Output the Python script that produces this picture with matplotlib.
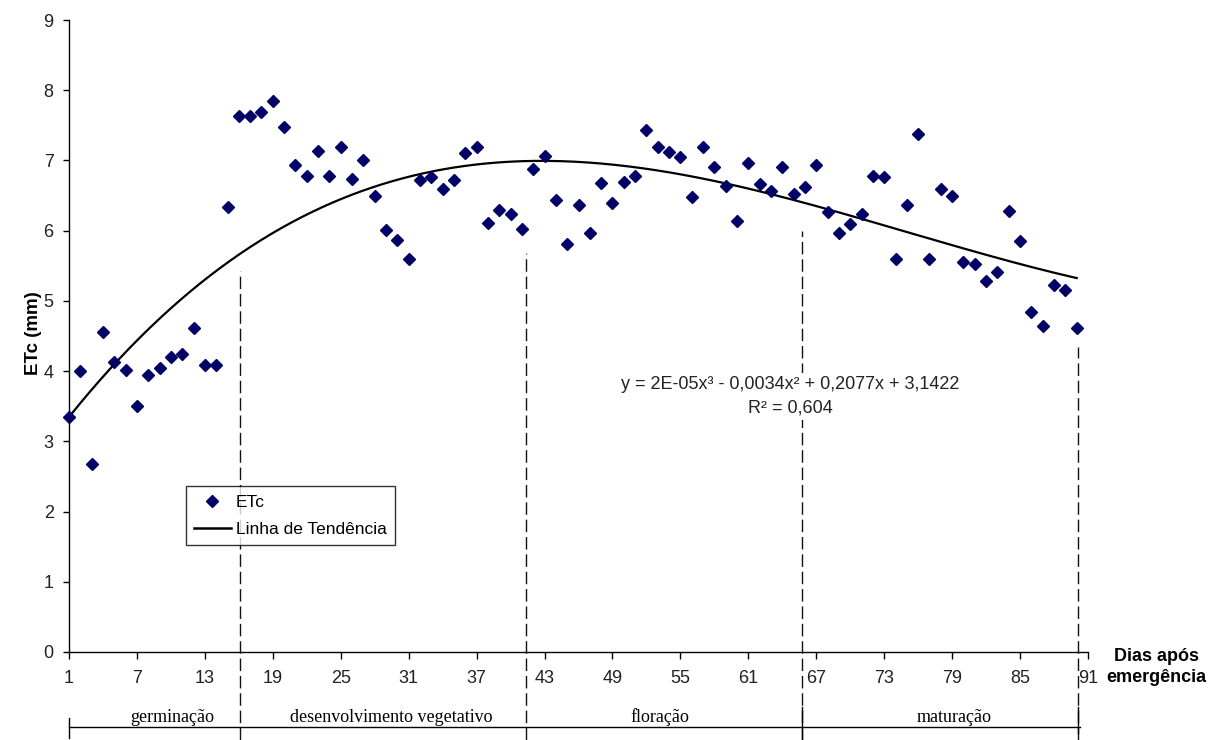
import numpy as np
import matplotlib
matplotlib.use("Agg")
import matplotlib.pyplot as plt
from matplotlib.lines import Line2D

# ---------------- data ----------------
days = list(range(1, 91))
etc = [3.35, 4.00, 2.68, 4.56, 4.13, 4.01, 3.51, 3.95, 4.05, 4.20,
       4.24, 4.62, 4.08, 4.08, 6.34, 7.63, 7.63, 7.69, 7.85, 7.47,
       6.94, 6.78, 7.14, 6.78, 7.19, 6.74, 7.00, 6.50, 6.01, 5.86,
       5.59, 6.72, 6.76, 6.60, 6.72, 7.10, 7.19, 6.11, 6.29, 6.24,
       6.03, 6.88, 7.06, 6.44, 5.81, 6.36, 5.97, 6.68, 6.40, 6.70,
       6.78, 7.43, 7.19, 7.12, 7.05, 6.48, 7.19, 6.90, 6.63, 6.14,
       6.97, 6.66, 6.57, 6.90, 6.52, 6.62, 6.94, 6.26, 5.97, 6.10,
       6.24, 6.78, 6.76, 5.59, 6.37, 7.37, 5.59, 6.60, 6.50, 5.55,
       5.53, 5.29, 5.41, 6.28, 5.85, 4.84, 4.64, 5.23, 5.16, 4.62]

xtick_labels = list(range(1, 92, 6))
yticks = list(range(0, 10))

stage_names = ["germinação", "desenvolvimento vegetativo", "floração", "maturação"]
stage_label_x = [10.1, 29.5, 53.2, 79.2]
stage_bounds = [16.1, 41.4, 65.7, 90.1]
stage_bound_tops = [5.42, 5.68, 6.00, 4.34]

equation = "y = 2E-05x³ - 0,0034x² + 0,2077x + 3,1422\nR² = 0,604"

# ---------------- figure ----------------
plt.rcParams['font.family'] = ['Liberation Sans', 'DejaVu Sans']

fig = plt.figure(figsize=(12.12, 7.40), dpi=100)
ax = fig.add_axes([69/1212, (740-652)/740, 1019/1212, 632/740])

x = np.array(days, dtype=float)
y = np.array(etc, dtype=float)

# trend line (cubic fit of the data)
coef = np.polyfit(x, y, 3)
xf = np.linspace(1, 90, 300)
ax.plot(xf, np.polyval(coef, xf), color='black', lw=1.6, zorder=3,
        label='Linha de Tendência', clip_on=False)

ax.plot(x, y, linestyle='none', marker='D', markersize=5.8,
        color='#000066', zorder=4, label='ETc', clip_on=False)

ax.set_xlim(1, 91)
ax.set_ylim(0, 9)
ax.set_xticks(xtick_labels)
ax.set_xticklabels([str(v) for v in xtick_labels])
ax.set_yticks(yticks)

for s in ['top', 'right']:
    ax.spines[s].set_visible(False)
for s in ['left', 'bottom']:
    ax.spines[s].set_linewidth(1.0)
    ax.spines[s].set_color('black')

ax.tick_params(axis='y', direction='out', length=4, width=1, pad=7,
               labelsize=13, colors='black')
ax.tick_params(axis='x', direction='out', length=5, width=1, pad=8,
               labelsize=13, colors='black')
for lab in ax.get_xticklabels() + ax.get_yticklabels():
    lab.set_color('#222222')

ax.set_ylabel('ETc (mm)', fontsize=13.5, fontweight='bold')
ax.yaxis.set_label_coords(-0.0265, 0.505)

# axis title at right
fig.text(1156/1212, 1 - 667/740, 'Dias após\nemergência', ha='center', va='center',
         fontsize=13, fontweight='bold', linespacing=1.25)

# stage boundary dashed lines
for bx, top in zip(stage_bounds, stage_bound_tops):
    ax.vlines(bx, -1.25, top, colors='#111111', linestyles=(0, (9, 3.5)),
              lw=1.0, clip_on=False, zorder=2)

# stage bar
ax.plot([1, 90.3], [-1.068, -1.068], color='black', lw=1.0, clip_on=False)
ax.plot([1, 1], [-0.94, -1.22], color='black', lw=1.0, clip_on=False)
ax.plot([stage_bounds[2], stage_bounds[2]], [-0.79, -1.25], color='black', lw=1.0, clip_on=False)
ax.plot([stage_bounds[3], stage_bounds[3]], [-0.79, -1.15], color='black', lw=1.0, clip_on=False)

for name, sx in zip(stage_names, stage_label_x):
    ax.text(sx, -0.99, name, ha='center', va='baseline', fontsize=13,
            family=['Liberation Serif', 'DejaVu Serif'], clip_on=False)

# equation
ax.text(64.7, 3.64, equation, ha='center', va='center', fontsize=13,
        linespacing=1.55, color='#222222', zorder=5,
        bbox=dict(facecolor='white', edgecolor='none', pad=2))

# legend
handles = [Line2D([], [], linestyle='none', marker='D', markersize=5.8, color='#000066'),
           Line2D([], [], color='black', lw=1.8)]
leg = ax.legend(handles, ['ETc', 'Linha de Tendência'], loc='lower left',
                bbox_to_anchor=(0.1148, 0.169), fontsize=12.5, frameon=True,
                fancybox=False, shadow=False, edgecolor='black',
                handlelength=2.1, handletextpad=0.3, labelspacing=0.7,
                borderpad=0.47, borderaxespad=0)
leg.get_frame().set_linewidth(1.0)

fig.savefig('out.png', dpi=100, facecolor='white')
